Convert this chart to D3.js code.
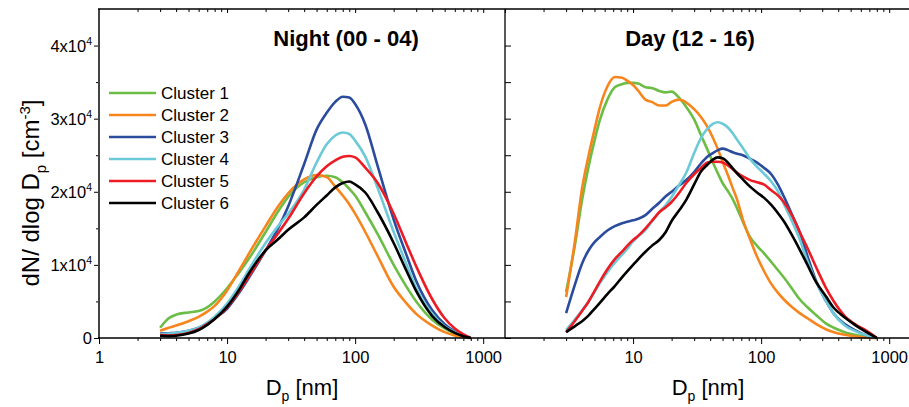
<!DOCTYPE html>
<html>
<head>
<meta charset="utf-8">
<script src="https://cdn.jsdelivr.net/npm/d3@7"></script>
<style>
  body { margin: 0; background: #fff; }
  svg { display: block; font-family: Arial, "Liberation Sans", sans-serif; }
</style>
</head>
<body>
<script>
// size bins (nm)
var nightD = [3, 3.5, 4, 5, 6, 7, 8, 10, 12, 15, 20, 25, 30, 40, 50, 60, 70, 80, 90, 100, 120, 150, 200, 250, 300, 400, 500, 600, 700, 800];
var dayD = [3, 3.5, 4, 4.5, 5, 5.5, 6.3, 7.2, 8.2, 9, 10, 11, 12.5, 14, 16, 18, 20, 23, 26, 30, 34, 38, 42, 46, 50, 55, 60, 65, 72, 82, 93, 105, 120, 135, 150, 175, 200, 230, 270, 320, 370, 450, 550, 650, 800];

// dN/dlogDp, night (00-04)
var nightC1 = [1400, 2700, 3200, 3500, 3700, 4200, 5000, 6800, 8600, 11000, 14500, 17300, 19300, 21300, 22000, 22200, 22000, 21300, 20400, 19500, 17200, 14200, 10000, 7100, 5000, 2500, 1300, 600, 200, 0];
var nightC2 = [1000, 1400, 1700, 2300, 2900, 3600, 4400, 6500, 8800, 11700, 15300, 18000, 19800, 21700, 22300, 22000, 20700, 19500, 18300, 17000, 14500, 11200, 7000, 4800, 3300, 1700, 800, 350, 120, 0];
var nightC3 = [600, 650, 700, 1000, 1400, 2000, 2700, 4000, 5800, 8400, 12000, 15000, 18000, 23800, 28500, 30800, 32300, 33000, 32900, 32000, 29200, 23500, 16200, 11500, 7800, 3800, 1900, 900, 300, 0];
var nightC4 = [500, 600, 700, 1000, 1400, 2100, 2900, 4700, 6700, 9500, 13000, 15300, 17000, 20300, 24000, 26500, 27700, 28100, 27900, 27000, 24800, 20500, 14500, 10200, 6800, 3300, 1600, 800, 300, 0];
var nightC5 = [400, 350, 400, 700, 1200, 1900, 2600, 4200, 6000, 8600, 12000, 14300, 16300, 19800, 22100, 23500, 24300, 24800, 24900, 24700, 23300, 21200, 17000, 13000, 9800, 5300, 2700, 1300, 500, 0];
var nightC6 = [300, 250, 300, 600, 1100, 1800, 2600, 4300, 6200, 9000, 12000, 13500, 14800, 16500, 18200, 19500, 20600, 21200, 21400, 21000, 19900, 17200, 13000, 9300, 6400, 3000, 1500, 700, 250, 0];

// dN/dlogDp, day (12-16)
var dayC1 = [6300, 12500, 18900, 23500, 27000, 29800, 32600, 34300, 34700, 34900, 34900, 34800, 34300, 34200, 33800, 33600, 33700, 32800, 31600, 29900, 27700, 25800, 24000, 22500, 21200, 20100, 19000, 17700, 15900, 13800, 12600, 11600, 10400, 9300, 8300, 6700, 5300, 4200, 3100, 2000, 1400, 800, 400, 150, 0];
var dayC2 = [5600, 13000, 20500, 25000, 28500, 31500, 34400, 35700, 35600, 35200, 34600, 33800, 32600, 32300, 31800, 31800, 32300, 32600, 32200, 31300, 30200, 28900, 27400, 25800, 24100, 22300, 20500, 18900, 16200, 13500, 11100, 9200, 7400, 6200, 5300, 4200, 3400, 2700, 1900, 1200, 800, 450, 200, 80, 0];
var dayC3 = [3400, 7200, 10200, 12000, 13100, 13800, 14700, 15300, 15700, 15900, 16100, 16300, 16800, 17600, 18500, 19400, 20000, 20900, 21600, 22700, 23900, 24800, 25300, 25700, 25900, 25700, 25400, 25200, 25000, 24500, 24000, 23300, 22400, 21000, 19400, 16800, 14500, 11200, 7700, 5100, 3300, 1900, 1000, 400, 0];
var dayC4 = [1100, 2500, 3800, 5000, 6300, 7500, 9000, 10300, 11400, 12200, 13200, 13900, 14800, 15900, 17200, 18200, 19300, 21000, 22600, 25300, 27400, 28600, 29300, 29500, 29300, 28800, 28000, 27100, 26000, 24500, 23400, 22500, 21400, 20100, 18400, 15900, 13500, 10500, 7600, 5100, 3300, 1700, 900, 400, 0];
var dayC5 = [800, 2300, 3700, 5000, 6400, 7700, 9400, 10800, 11800, 12600, 13400, 14000, 15000, 16000, 17200, 17900, 18600, 19900, 21200, 22400, 23300, 24000, 24100, 24100, 24000, 23600, 23100, 22600, 22100, 21600, 21300, 21000, 20200, 19500, 18600, 16700, 14500, 12300, 9600, 6900, 5000, 3000, 1800, 1100, 0];
var dayC6 = [800, 1600, 2300, 3100, 4000, 4800, 6000, 7100, 8300, 9100, 10000, 10800, 11800, 12600, 13400, 14500, 16000, 17500, 18900, 21000, 22800, 23700, 24400, 24700, 24600, 24000, 23200, 22500, 21700, 20700, 19900, 19200, 18200, 17100, 16000, 14000, 12100, 10000, 7600, 5700, 4100, 2800, 1700, 900, 0];

var clusterNames = ["Cluster 1", "Cluster 2", "Cluster 3", "Cluster 4", "Cluster 5", "Cluster 6"];
var clusterColors = ["#6cbd45", "#f7851d", "#2b4c9c", "#6ccad8", "#ed1c24", "#000000"];
var yTickExp = [0, 1, 2, 3, 4];
var xTickMajor = [1, 10, 100, 1000];

var width = 909, height = 407;
var panelW = 406;
var plotTop = 9, plotBottom = 338;
var panels = [
  { x0: 99, title: "Night (00 - 04)", titleX: 346, D: nightD, series: [nightC1, nightC2, nightC3, nightC4, nightC5, nightC6] },
  { x0: 505, title: "Day (12 - 16)", titleX: 690, D: dayD, series: [dayC1, dayC2, dayC3, dayC4, dayC5, dayC6] }
];

var svg = d3.select("body").append("svg")
  .attr("width", width)
  .attr("height", height);

var y = d3.scaleLinear().domain([0, 45000]).range([plotBottom, plotTop]);

// minor tick positions on log axis
var minorTicks = [];
for (var dec = 1; dec <= 1000; dec *= 10) {
  for (var m = 2; m <= 9; m++) {
    if (dec * m < 1480) minorTicks.push(dec * m);
  }
}
var yMinor = d3.range(5000, 45000, 10000);

panels.forEach(function (p, pi) {
  var x = d3.scaleLog().domain([1, 1480]).range([p.x0, p.x0 + panelW]);
  var g = svg.append("g");

  // bottom axis (outward ticks)
  var xAxisMajor = d3.axisBottom(x).tickValues(pi === 0 ? xTickMajor : xTickMajor.slice(1))
    .tickSize(6).tickSizeOuter(0).tickPadding(4).tickFormat(d3.format("d"));
  var bx = g.append("g").attr("transform", "translate(0," + plotBottom + ")")
    .attr("font-size", 16).attr("font-family", null).call(xAxisMajor);
  bx.select(".domain").remove();
  bx.selectAll("text").attr("font-size", 16.5).attr("dy", "0.9em");
  g.append("g").attr("transform", "translate(0," + plotBottom + ")")
    .call(d3.axisBottom(x).tickValues(minorTicks).tickSize(3).tickFormat(""))
    .select(".domain").remove();

  // top axis (inward ticks)
  var tx = g.append("g").attr("transform", "translate(0," + plotTop + ")")
    .call(d3.axisTop(x).tickValues(xTickMajor).tickSize(-4).tickFormat(""));
  tx.select(".domain").remove();
  g.append("g").attr("transform", "translate(0," + plotTop + ")")
    .call(d3.axisTop(x).tickValues(minorTicks).tickSize(-3).tickFormat(""))
    .select(".domain").remove();

  // curves
  var line = d3.line()
    .x(function (d) { return x(d[0]); })
    .y(function (d) { return y(d[1]); })
    .curve(d3.curveMonotoneX);
  p.series.forEach(function (vals, i) {
    var pts = p.D.map(function (d, j) { return [d, vals[j]]; });
    g.append("path")
      .datum(pts)
      .attr("d", line)
      .attr("fill", "none")
      .attr("stroke", clusterColors[i])
      .attr("stroke-width", 2.6)
      .attr("stroke-linejoin", "round");
  });

  // panel title
  g.append("text")
    .attr("x", p.titleX)
    .attr("y", 46)
    .attr("text-anchor", "middle")
    .style("font-size", "22px")
    .style("font-weight", "bold")
    .text(p.title);

  // x title
  var xt = g.append("text")
    .attr("x", p.x0 + panelW / 2)
    .attr("y", 395)
    .attr("text-anchor", "middle")
    .style("font-size", "22px");
  xt.append("tspan").text("D");
  xt.append("tspan").attr("dy", 6).style("font-size", "14px").text("p");
  xt.append("tspan").attr("dy", -6).text(" [nm]");
});

// y axis on the left (outward ticks + labels)
var yl = svg.append("g").attr("transform", "translate(99,0)");
yl.append("g")
  .call(d3.axisLeft(y).tickValues(yTickExp.map(function (e) { return e * 10000; })).tickSize(5).tickFormat(""))
  .select(".domain").remove();
yl.append("g")
  .call(d3.axisLeft(y).tickValues(yMinor).tickSize(3).tickFormat(""))
  .select(".domain").remove();
yTickExp.forEach(function (e) {
  var t = yl.append("text")
    .attr("x", -7)
    .attr("y", y(e * 10000) + 6)
    .attr("text-anchor", "end")
    .style("font-size", "16.5px");
  if (e === 0) {
    t.text("0");
  } else {
    t.append("tspan").text(e + "x10");
    t.append("tspan").attr("dy", -7).style("font-size", "10.5px").text("4");
  }
});

// ticks on the divider, pointing into the right panel
var yr = svg.append("g").attr("transform", "translate(505,0)");
yr.append("g")
  .call(d3.axisRight(y).tickValues(d3.range(0, 45000, 5000)).tickSize(6).tickFormat(""))
  .select(".domain").remove();

// frame
svg.append("line").attr("x1", 99).attr("x2", 99).attr("y1", plotTop).attr("y2", plotBottom)
  .attr("stroke", "#444").attr("stroke-width", 2);
svg.append("line").attr("x1", 505).attr("x2", 505).attr("y1", plotTop).attr("y2", plotBottom)
  .attr("stroke", "#000").attr("stroke-width", 1.3);
svg.append("line").attr("x1", 98).attr("x2", 911).attr("y1", plotTop).attr("y2", plotTop)
  .attr("stroke", "#000").attr("stroke-width", 1.5);
svg.append("line").attr("x1", 98).attr("x2", 911).attr("y1", plotBottom).attr("y2", plotBottom)
  .attr("stroke", "#000").attr("stroke-width", 1.3);

// y title
var ytl = svg.append("text")
  .attr("transform", "translate(39,193)rotate(-90)")
  .attr("text-anchor", "middle")
  .style("font-size", "24px");
ytl.append("tspan").text("dN/ dlog D");
ytl.append("tspan").attr("dy", 7).style("font-size", "15px").text("p");
ytl.append("tspan").attr("dy", -7).text(" [cm");
ytl.append("tspan").attr("dy", -9).style("font-size", "15px").text("-3");
ytl.append("tspan").attr("dy", 9).text("]");

// legend
var legend = svg.selectAll(".legend")
  .data(clusterNames)
  .enter()
  .append("g")
  .attr("class", "legend")
  .attr("transform", function (d, i) {
    return "translate(109," + (93 + i * 22) + ")";
  });
legend.append("line")
  .attr("x1", 0).attr("x2", 47)
  .attr("stroke", function (d, i) { return clusterColors[i]; })
  .attr("stroke-width", 2.6);
legend.append("text")
  .attr("x", 52)
  .attr("y", 6)
  .style("font-size", "17px")
  .text(function (d) { return d; });
</script>
</body>
</html>
